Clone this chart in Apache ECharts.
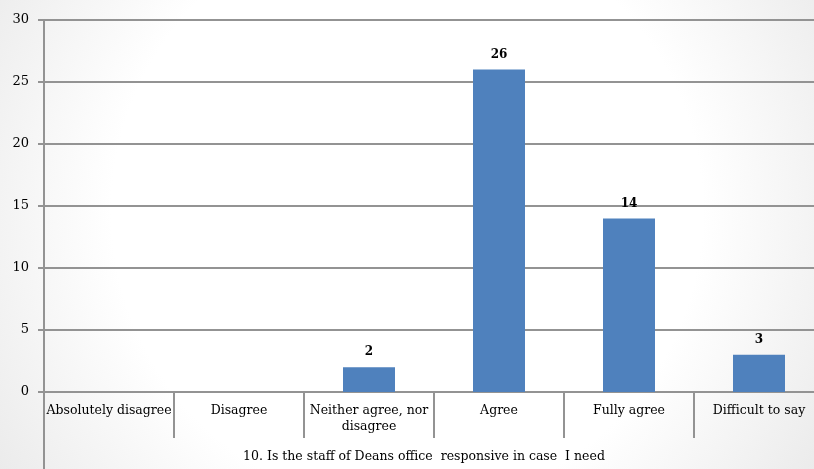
<!DOCTYPE html>
<html>
<head>
<meta charset="utf-8">
<script src="https://cdn.jsdelivr.net/npm/echarts@6/dist/echarts.min.js"></script>
<style>
  html, body { margin: 0; padding: 0; overflow: hidden; }
  #chart { width: 100vw; height: 100vh; }
</style>
</head>
<body>
<div id="chart"></div>
<script>
// Survey answers for question 10
const categories = ['Absolutely disagree', 'Disagree', 'Neither agree, nor\ndisagree', 'Agree', 'Fully agree', 'Difficult to say'];
const counts = [0, 0, 2, 26, 14, 3];
const yTicks = { min: 0, max: 30, step: 5 };
const questionTitle = '10. Is the staff of Deans office  responsive in case  I need';

const FONT = 'DejaVu Serif';
const AXIS_GREY = '#939393';
const GRID = { left: 44, right: -10, top: 20, bottom: 77 };

const el = document.getElementById('chart');
const chart = echarts.init(el);
const H = chart.getHeight();

chart.setOption({
  animation: false,
  backgroundColor: {
    type: 'radial', x: 0.5, y: 0.45, r: 1.05,
    colorStops: [
      { offset: 0, color: '#ffffff' },
      { offset: 0.6, color: '#ffffff' },
      { offset: 1, color: '#eaeaea' }
    ]
  },
  grid: Object.assign({ outerBoundsMode: 'none', containLabel: false }, GRID),
  xAxis: {
    type: 'category',
    data: categories,
    name: questionTitle,
    nameLocation: 'middle',
    nameGap: 58,
    nameTextStyle: { fontFamily: FONT, fontSize: 12.5, color: '#000', padding: [0, 20, 0, 0] },
    axisLine: { lineStyle: { color: AXIS_GREY, width: 2 } },
    axisTick: { show: true, interval: 0, alignWithLabel: false, length: 46, lineStyle: { color: AXIS_GREY, width: 2 } },
    axisLabel: { interval: 0, margin: 11, fontFamily: FONT, fontSize: 12.5, color: '#000', lineHeight: 16 },
    splitLine: { show: false }
  },
  yAxis: {
    type: 'value',
    min: yTicks.min,
    max: yTicks.max,
    interval: yTicks.step,
    axisLine: { show: true, lineStyle: { color: AXIS_GREY, width: 2 } },
    axisTick: { show: true, length: 6, lineStyle: { color: AXIS_GREY, width: 2 } },
    axisLabel: { margin: 15, fontFamily: FONT, fontSize: 13, color: '#000' },
    splitLine: { lineStyle: { color: AXIS_GREY, width: 2 } }
  },
  series: [{
    type: 'bar',
    data: counts.map(v => v === 0 ? null : v),
    barWidth: '40%',
    itemStyle: { color: '#4f81bd' },
    label: {
      show: true,
      position: 'top',
      distance: 9,
      fontFamily: FONT,
      fontSize: 12,
      fontWeight: 'bold',
      color: '#000'
    }
  }],
  graphic: [{
    // y-axis rule continues down past the category labels
    type: 'line',
    shape: { x1: GRID.left, y1: H - GRID.bottom, x2: GRID.left, y2: H },
    style: { stroke: AXIS_GREY, lineWidth: 2 },
    silent: true
  }]
});
</script>
</body>
</html>
